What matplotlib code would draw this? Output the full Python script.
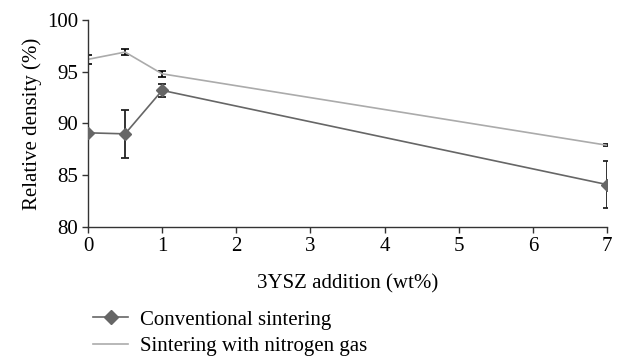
import matplotlib
matplotlib.use("Agg")
import matplotlib.pyplot as plt
from matplotlib.lines import Line2D

x = [0, 0.5, 1, 7]
conv = [89.1, 89.0, 93.2, 84.1]
conv_err = [0.0, 2.35, 0.6, 2.25]
nitro = [96.2, 96.9, 94.8, 87.9]
nitro_err = [0.45, 0.3, 0.3, 0.1]
xticks = [0, 1, 2, 3, 4, 5, 6, 7]
yticks = [80, 85, 90, 95, 100]

plt.rcParams['font.family'] = ['Liberation Serif', 'DejaVu Serif']
FS = 15

fig = plt.figure(figsize=(6.19, 3.58), dpi=100)
ax = fig.add_axes([88 / 619, 1 - 227 / 358, (607 - 88) / 619, (227 - 20) / 358])

ax.errorbar(x, nitro, yerr=nitro_err, color='#ababab', lw=1.2, ecolor='black',
            elinewidth=1.2, capsize=3, capthick=1.2, zorder=2)
ax.errorbar(x, conv, yerr=conv_err, color='#666666', lw=1.2, marker='D', ms=6,
            mfc='#666666', mec='#666666', ecolor='#222222', elinewidth=1.3,
            capsize=3, capthick=1.3, zorder=3)

ax.set_xlim(0, 7)
ax.set_ylim(80, 100)
ax.set_xticks(xticks)
ax.set_yticks(yticks)
for s in ['top', 'right']:
    ax.spines[s].set_visible(False)
for s in ['left', 'bottom']:
    ax.spines[s].set_color('#333333')
    ax.spines[s].set_linewidth(1.0)
ax.tick_params(axis='both', direction='out', length=4, width=1.0, colors='#333333',
               labelsize=FS, labelcolor='black', pad=3)
ax.set_xlabel('3YSZ addition (wt%)', fontsize=FS, labelpad=13)
ax.set_ylabel('Relative density (%)', fontsize=FS, labelpad=4)

handles = [Line2D([], [], color='#666666', lw=1.2, marker='D', ms=7, mfc='#666666', mec='#666666'),
           Line2D([], [], color='#ababab', lw=1.2)]
fig.legend(handles, ['Conventional sintering', 'Sintering with nitrogen gas'],
           loc='upper left', bbox_to_anchor=(93 / 619, 1 - 310 / 358), frameon=False,
           fontsize=FS, handlelength=1.7, handletextpad=0.55, labelspacing=0.35,
           borderaxespad=0, borderpad=0)

fig.savefig('out.png', dpi=100)
